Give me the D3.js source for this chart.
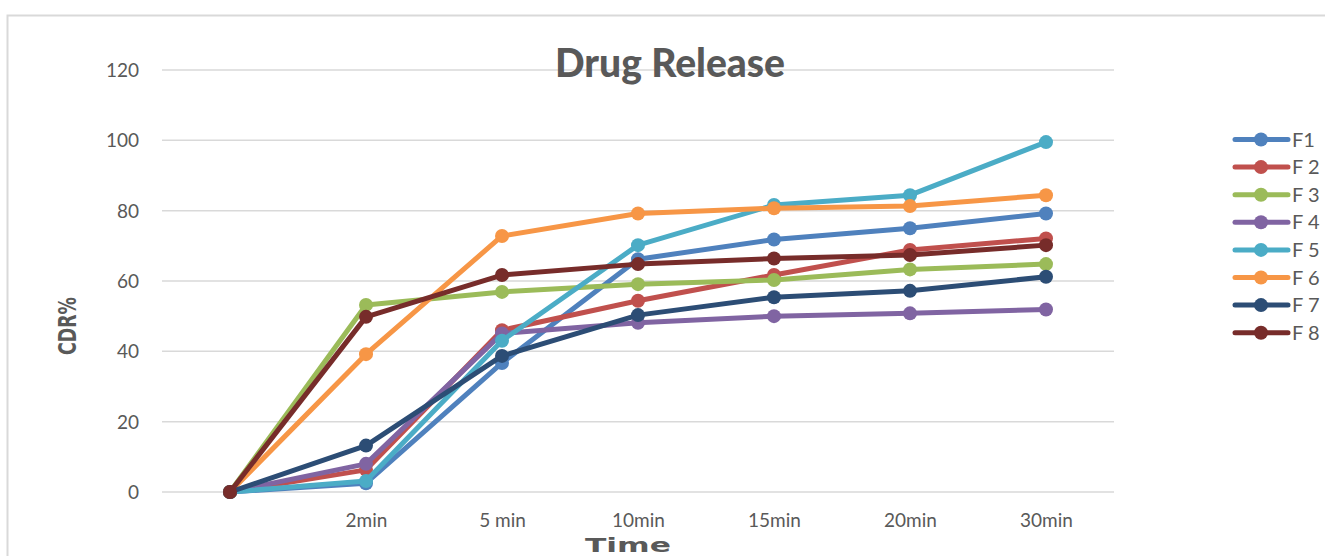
<!DOCTYPE html>
<html><head><meta charset="utf-8">
<script src="https://cdn.jsdelivr.net/npm/d3@7"></script>
<style>body{margin:0;background:#fff}svg{display:block}</style>
</head><body><svg id="c" width="1325" height="556"></svg>
<script>
const categories = ["", "2min", "5 min", "10min", "15min", "20min", "30min"];
const seriesNames = ["F1", "F 2", "F 3", "F 4", "F 5", "F 6", "F 7", "F 8"];
const F1 = [0, 2.5, 36.7, 66.2, 71.8, 75.0, 79.2];
const F2 = [0, 6.3, 46.0, 54.4, 61.7, 68.8, 72.1];
const F3 = [0, 53.2, 56.9, 59.1, 60.3, 63.3, 64.8];
const F4 = [0, 8.0, 45.1, 48.1, 50.0, 50.8, 51.9];
const F5 = [0, 3.1, 43.0, 70.2, 81.6, 84.4, 99.5];
const F6 = [0, 39.2, 72.8, 79.2, 80.7, 81.3, 84.4];
const F7 = [0, 13.2, 38.7, 50.3, 55.4, 57.2, 61.2];
const F8 = [0, 49.8, 61.7, 64.8, 66.4, 67.4, 70.2];
const yTicks = [0, 20, 40, 60, 80, 100, 120];
const colors = ["#4f81bd", "#c0504d", "#9bbb59", "#8064a2", "#4bacc6", "#f79646", "#2c4d75", "#772c2a"];
const seriesValues = [F1, F2, F3, F4, F5, F6, F7, F8];

const svg = d3.select("#c");
// chart border
svg.append("rect").attr("x", 7.5).attr("y", 15.5).attr("width", 1330).attr("height", 560)
  .attr("fill", "none").attr("stroke", "#d9d9d9").attr("stroke-width", 2);

const x = d3.scalePoint().domain(categories.map((c,i)=>i)).range([230, 1046]);
const y = d3.scaleLinear().domain([0, 120]).range([492, 70]);

// gridlines
svg.append("g").selectAll("line").data(yTicks).join("line")
  .attr("x1", 162).attr("x2", 1114)
  .attr("y1", d => y(d)).attr("y2", d => y(d))
  .attr("stroke", "#d9d9d9").attr("stroke-width", 1.5);

// y axis labels
const yAxis = d3.axisLeft(y).tickValues(yTicks).tickSize(0).tickPadding(0);
const gy = svg.append("g").attr("transform", "translate(139,0)").call(yAxis);
gy.select(".domain").remove();
gy.selectAll("text").attr("font-family", "Lato, 'Open Sans', sans-serif").attr("font-size", 19)
  .attr("fill", "#595959").attr("dy", "0.35em");

// x axis labels
const xAxis = d3.axisBottom(x).tickFormat(i => categories[i]).tickSize(0).tickPadding(0);
const gx = svg.append("g").attr("transform", "translate(0,513)").call(xAxis);
gx.select(".domain").remove();
gx.selectAll("text").attr("font-family", "Lato, 'Open Sans', sans-serif").attr("font-size", 19)
  .attr("fill", "#595959").attr("dy", "0.71em");

// title
svg.append("text").attr("x", 670).attr("y", 77).attr("text-anchor", "middle")
  .attr("font-family", "Lato, 'Open Sans', sans-serif").attr("font-weight", "900")
  .attr("font-size", 39).attr("fill", "#595959").text("Drug Release");

// axis titles
svg.append("text").attr("transform", "translate(76,326) rotate(-90)").attr("text-anchor", "middle")
  .attr("font-family", "'DejaVu Sans Condensed', Roboto, sans-serif").attr("font-weight", "bold")
  .attr("font-size", 25).attr("fill", "#595959")
  .attr("textLength", 58).attr("lengthAdjust", "spacingAndGlyphs").text("CDR%");
svg.append("text").attr("x", 628).attr("y", 552).attr("text-anchor", "middle")
  .attr("font-family", "'DejaVu Sans', sans-serif").attr("font-weight", "bold")
  .attr("font-size", 19).attr("fill", "#595959")
  .attr("textLength", 86).attr("lengthAdjust", "spacingAndGlyphs").text("Time");

// lines
const line = d3.line().x((d,i) => x(i)).y(d => y(d));
const g = svg.append("g");
seriesValues.forEach((vals, k) => {
  g.append("path").datum(vals).attr("d", line).attr("fill", "none")
    .attr("stroke", colors[k]).attr("stroke-width", 5).attr("stroke-linejoin", "round").attr("stroke-linecap", "round");
  g.append("g").selectAll("circle").data(vals).join("circle")
    .attr("cx", (d,i) => x(i)).attr("cy", d => y(d)).attr("r", 7).attr("fill", colors[k]);
});

// legend
const lg = svg.append("g");
seriesNames.forEach((name, k) => {
  const yy = 139.5 + k * 27.6;
  lg.append("line").attr("x1", 1235).attr("x2", 1288).attr("y1", yy).attr("y2", yy)
    .attr("stroke", colors[k]).attr("stroke-width", 5).attr("stroke-linecap", "round");
  lg.append("circle").attr("cx", 1261).attr("cy", yy).attr("r", 7).attr("fill", colors[k]);
  lg.append("text").attr("x", 1292).attr("y", yy).attr("dy", "0.35em")
    .attr("font-family", "Lato, 'Open Sans', sans-serif").attr("font-size", 20)
    .attr("fill", "#595959").text(name);
});
</script></body></html>
